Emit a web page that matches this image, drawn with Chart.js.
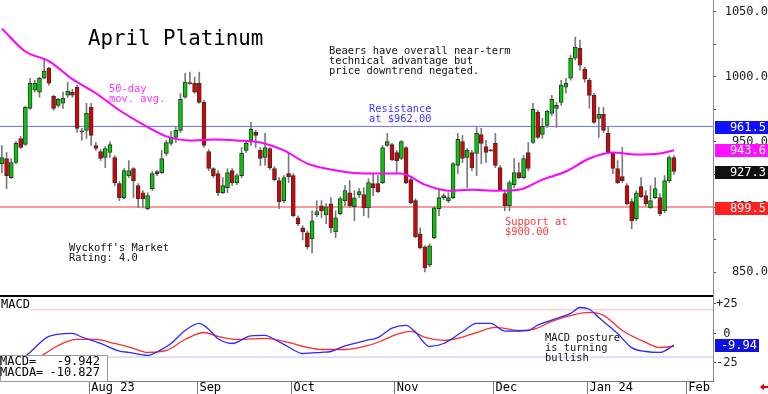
<!DOCTYPE html>
<html>
<head>
<meta charset="utf-8">
<script src="https://cdn.jsdelivr.net/npm/chart.js@4.4.1/dist/chart.umd.min.js"></script>
<style>
  html, body { margin: 0; padding: 0; background: #fff; }
  #wrap { position: relative; width: 768px; height: 394px; }
</style>
</head>
<body>
<div id="wrap"><canvas id="chart"></canvas></div>
<script>
// --- Daily candles (trading-day index 0..143) ---
const openP = [933.4,937.3,922.6,934.2,952.7,948.1,975.9,989.8,988.3,999.0,1006.8,985.2,978.2,979.8,986.0,988.3,992.1,958.5,958.9,976.7,
  947.3,942.7,938.1,941.9,938.1,918.0,907.2,924.2,929.6,916.4,911.0,898.7,914.1,927.3,926.5,941.2,948.9,953.5,958.9,984.4,
  995.5,995.2,995.2,980.5,942.7,929.6,925.7,911.0,914.9,928.0,918.8,924.2,943.5,951.2,957.4,943.5,938.1,945.0,929.6,920.3,
  904.9,925.7,924.2,891.7,884.0,880.1,875.5,894.0,901.0,894.0,902.5,880.9,894.8,904.9,911.0,900.2,909.5,909.5,899.4,918.0,
  918.0,918.8,947.3,948.1,941.9,937.3,945.8,921.1,904.9,879.4,869.3,855.4,876.3,898.7,907.2,904.9,907.2,931.9,950.4,938.1,
  941.9,941.2,955.8,946.5,943.9,948.9,930.3,910.3,901.0,917.2,926.5,922.6,941.9,949.6,972.8,955.8,962.8,972.0,975.9,980.5,
  992.1,999.0,1014.5,1022.2,1006.0,997.5,985.9,968.2,971.3,956.6,941.2,929.6,923.4,916.4,904.1,891.0,915.7,908.7,899.4,907.2,
  907.2,897.1,920.3,938.1];
const highP = [947.3,941.9,937.3,950.4,954.3,977.5,999.0,997.5,999.8,1014.5,1007.5,986.0,983.6,988.3,996.0,990.6,993.7,960.5,979.8,979.8,
  949.6,944.2,946.5,950.4,939.6,919.5,929.6,935.7,930.3,918.0,912.6,911.0,927.3,928.0,943.5,951.2,958.2,961.2,987.5,1002.9,
  1003.7,999.8,1003.7,982.1,944.2,930.3,928.0,922.6,929.6,929.6,925.7,945.8,951.2,965.1,958.9,945.8,956.6,945.8,931.1,922.6,
  924.2,941.9,925.7,893.3,885.6,881.7,897.1,904.9,904.9,902.5,907.2,897.1,908.0,916.4,920.3,912.6,914.1,914.9,921.8,925.7,
  924.2,947.3,956.6,948.9,943.5,951.2,946.5,922.6,906.4,884.0,870.1,871.7,900.2,913.3,910.3,911.0,934.2,956.6,955.1,945.0,
  943.5,961.2,960.5,951.2,944.2,956.6,931.9,912.6,920.3,937.3,934.2,939.6,949.6,979.8,974.4,968.2,974.4,985.9,980.5,997.5,
  999.0,1016.8,1030.7,1028.4,1007.5,999.0,987.5,976.7,976.7,961.2,941.9,935.7,945.8,918.0,906.4,912.6,922.6,912.6,916.4,922.6,
  910.3,924.2,939.6,939.6];
const lowP = [926.5,914.1,921.8,933.4,945.0,947.3,975.1,988.3,984.4,998.5,993.7,974.4,976.7,975.9,984.4,984.4,957.4,951.2,952.7,947.3,
  943.5,935.7,930.3,938.1,916.4,904.9,906.4,922.6,907.2,899.4,899.4,897.9,912.6,924.2,925.7,939.6,947.3,949.6,957.4,983.6,
  994.4,987.5,979.8,945.8,928.0,922.6,908.7,910.3,911.0,916.4,917.2,922.6,941.9,947.3,945.8,931.9,931.9,928.8,920.3,898.7,
  903.3,918.8,892.5,885.6,874.7,867.8,864.7,892.5,891.7,887.1,880.1,876.3,894.0,901.0,899.4,889.4,907.2,893.3,891.7,908.7,
  911.0,918.0,946.5,935.7,925.7,936.5,918.0,902.5,876.3,867.8,850.0,853.9,875.5,893.3,905.6,903.3,906.4,925.7,934.2,914.9,
  928.0,924.2,933.4,934.2,942.7,930.3,912.6,897.1,897.1,914.9,921.8,921.8,928.0,948.9,952.7,952.7,961.2,970.5,961.2,978.2,
  987.5,997.5,1013.0,1005.2,996.0,975.9,964.3,953.5,957.4,941.2,925.7,918.0,918.8,901.5,883.2,889.4,907.2,901.0,899.0,906.4,
  893.3,895.6,918.8,925.0];
const closeP = [938.0,924.2,934.2,948.9,945.8,976.7,995.2,995.2,999.0,1004.5,995.2,975.9,982.8,983.6,989.0,986.0,960.5,957.9,972.0,955.1,
  945.0,937.3,945.0,948.1,918.8,907.2,928.0,928.0,920.3,906.4,906.4,908.7,925.7,925.7,937.3,949.6,953.5,958.9,982.8,996.0,
  994.9,988.3,980.5,947.3,929.6,924.2,911.0,916.4,926.5,918.8,924.2,941.2,948.9,959.7,955.1,937.3,945.8,930.3,921.1,904.1,
  922.6,923.4,893.3,887.1,880.9,869.3,889.4,896.4,897.1,900.2,884.0,891.7,906.4,912.6,901.0,907.0,911.8,899.4,918.8,914.9,
  911.8,945.8,950.4,936.5,935.7,950.4,918.8,903.3,877.1,868.6,853.1,870.1,899.4,907.2,908.7,907.2,933.4,952.0,937.3,943.5,
  930.3,956.6,948.9,941.9,943.2,931.9,913.3,901.0,918.8,926.5,922.6,937.3,929.6,975.1,953.5,962.0,973.6,982.8,978.2,993.7,
  995.2,1014.5,1023.0,1009.1,998.3,985.9,965.1,971.3,958.9,941.9,929.6,918.8,920.3,902.5,889.4,911.0,907.9,902.5,904.9,914.1,
  894.8,920.3,938.1,927.3];

// 50-day moving average, sampled along the curve
const maIdx = [0,5,10,15,20,25,30,35,40,45,50,55,60,65,70,75,80,85,90,95,100,105,110,115,120,125,130,135,140,143];
const maVal = [1037.2,1019.6,1012.2,998.3,987.5,974.4,963.5,954.3,951.2,952.0,951.2,949.6,943.5,933.4,928.8,926.1,925.7,925.7,917.2,912.6,
  913.3,912.6,913.3,921.1,927.3,937.3,941.9,940.4,941.2,943.6];

// MACD (blue) and its average MACDA (red)
const macdIdx = [3,6,10,15,17,21,25,27,31,34,36,39,42,44,46,49,53,56,58,61,64,68,70,73,78,80,83,86,88,91,94,98,101,104,107,112,114,118,121,123,125,127,131,134,137,140,143];
const macdVal = [-26,-16,-2.5,0,-3,-8.5,-15,-16,-18.6,-13.5,-8.5,2.5,8.5,3.5,-4.5,-8.5,-2,-1.7,-5,-11.5,-17,-16,-15.3,-10.5,-5.5,-3.5,4.5,6.8,1,-11,
  -8.5,1.5,8.5,8.5,2,2.5,7,12.7,17,22,20.5,13.5,0,-12,-15.3,-16.1,-9.94];
const signalIdx = [6,8,12,16,20,24,28,31,35,39,43,46,50,56,61,65,68,73,78,81,84,87,90,94,97,101,105,110,113,117,122,125,128,132,137,140,143];
const signalVal = [-26,-20.3,-10.2,-5.1,-5.1,-8.5,-12.7,-16.1,-14.4,-5.1,0.8,-2.5,-5.1,-4.2,-7.6,-11.9,-13.6,-13.6,-10.2,-5.9,-0.8,1.7,-3.4,-5.9,-4.2,
  0.8,5.1,2.5,3.4,10.2,16.1,17.8,15.3,2.5,-7.6,-11.9,-10.83];

// Reference levels
const resistance = 962;
const support = 900;
const macdUpper = 20;
const macdLower = -20;

// Axis ticks
const priceTicks = [850, 875, 900, 925, 950, 975, 1000, 1025, 1050];
const macdTicks = [-25, 0, 25];
const monthStart = [19, 42, 62, 84, 105, 125, 146];
const monthLabels = ['Aug 23', 'Sep', 'Oct', 'Nov', 'Dec', 'Jan 24', 'Feb'];

// Last-value tags on the right axis
const priceTags = [961.5, 943.6, 927.3, 899.5];
const priceTagColors = ['#1010ff', '#ff10ff', '#111111', '#ff2020'];
const macdLast = -9.942;
const macdaLast = -10.827;

const MONO = '"DejaVu Sans Mono", "Liberation Mono", monospace';
const GREEN = '#00cc00';
const RED = '#dd0000';

const pts = (xs, ys) => xs.map((x, i) => ({ x, y: ys[i] }));
const flat = (v) => [{ x: -1, y: v }, { x: 160, y: v }];

// overlay: panel divider, value tags, notes, MACD readout
const decor = {
  id: 'decor',
  afterDraw(chart) {
    const ctx = chart.ctx;
    const yP = chart.scales.y;
    const yM = chart.scales.yM;
    const area = chart.chartArea;
    ctx.save();

    // divider between price and MACD panels
    ctx.strokeStyle = '#000';
    ctx.lineWidth = 2;
    ctx.beginPath();
    ctx.moveTo(area.left, yP.bottom - 1);
    ctx.lineTo(yP.left, yP.bottom - 1);
    ctx.stroke();

    // tags
    ctx.font = '12px ' + MONO;
    ctx.textAlign = 'right';
    ctx.textBaseline = 'middle';
    priceTags.forEach((v, i) => {
      const y = Math.round(yP.getPixelForValue(v));
      ctx.fillStyle = priceTagColors[i];
      ctx.fillRect(yP.left + 2, y - 6, yP.right - yP.left - 2, 13);
      ctx.fillStyle = '#fff';
      ctx.fillText(v.toFixed(1), yP.right - 2, y + 1);
    });
    const ym = Math.round(yM.getPixelForValue(macdLast));
    ctx.fillStyle = '#1010e0';
    ctx.fillRect(yM.left + 2, ym - 6, 44, 13);
    ctx.fillStyle = '#fff';
    ctx.fillText(macdLast.toFixed(2), yM.left + 44, ym + 1);

    // notes
    const notes = [
      { lines: ['Beaers have overall near-term', 'technical advantage but', 'price downtrend negated.'], x: 329, y: 51, color: '#111' },
      { lines: ['Resistance', 'at $962.00'], x: 369, y: 109, color: '#3838ff' },
      { lines: ['50-day', 'mov. avg.'], x: 109, y: 89, color: '#ff30ff' },
      { lines: ["Wyckoff's Market", 'Rating: 4.0'], x: 69, y: 248, color: '#111' },
      { lines: ['Support at', '$900.00'], x: 505, y: 222, color: '#ff3838' },
      { lines: ['MACD posture', 'is turning', 'bullish'], x: 545, y: 338, color: '#111' }
    ];
    ctx.textAlign = 'left';
    ctx.font = '10.4px ' + MONO;
    notes.forEach(n => {
      ctx.fillStyle = n.color;
      n.lines.forEach((t, k) => ctx.fillText(t, n.x, n.y + k * 10.3));
    });

    // title
    ctx.fillStyle = '#000';
    ctx.font = '20.8px ' + MONO;
    ctx.textBaseline = 'alphabetic';
    ctx.fillText('April Platinum', 88, 45);

    // MACD panel label
    ctx.font = '12px ' + MONO;
    ctx.textBaseline = 'middle';
    ctx.fillStyle = '#fff';
    ctx.fillRect(0, yM.top + 1, 30, 13);
    ctx.fillStyle = '#000';
    ctx.fillText('MACD', 1, yM.top + 8);

    // MACD readout box
    ctx.fillStyle = '#fff';
    ctx.fillRect(0, 355, 108, yM.bottom - 355);
    ctx.strokeStyle = '#999';
    ctx.lineWidth = 1;
    ctx.strokeRect(0.5, 355.5, 107, yM.bottom - 355);
    ctx.fillStyle = '#000';
    ctx.fillText('MACD=', 0, 362);
    ctx.fillText('MACDA=', 0, 373);
    ctx.textAlign = 'right';
    ctx.fillText(macdLast.toFixed(3), 100, 362);
    ctx.fillText(macdaLast.toFixed(3), 100, 373);

    // small red arrow bottom right
    ctx.fillStyle = '#e00000';
    ctx.beginPath();
    ctx.moveTo(760, 387);
    ctx.lineTo(764, 383.5);
    ctx.lineTo(764, 390.5);
    ctx.closePath();
    ctx.fill();
    ctx.fillRect(764, 386, 4, 2);

    ctx.restore();
  }
};

const yAxisFit = (s) => { s.width = 55; s.paddingTop = 0; s.paddingBottom = 0; };

new Chart(document.getElementById('chart'), {
  type: 'bar',
  data: {
    datasets: [
      {
        type: 'line', label: 'MACD', yAxisID: 'yM', data: pts(macdIdx, macdVal),
        borderColor: '#2b2bff', borderWidth: 1.3, pointRadius: 0, cubicInterpolationMode: 'monotone', order: 1
      },
      {
        type: 'line', label: 'MACDA', yAxisID: 'yM', data: pts(signalIdx, signalVal),
        borderColor: '#ff2b2b', borderWidth: 1.3, pointRadius: 0, cubicInterpolationMode: 'monotone', order: 1
      },
      {
        type: 'line', label: '50-day', yAxisID: 'y', data: pts(maIdx, maVal),
        borderColor: '#ff00ff', borderWidth: 2, pointRadius: 0, cubicInterpolationMode: 'monotone', order: 2
      },
      {
        label: 'body', yAxisID: 'y', grouped: false, barThickness: 4, minBarLength: 1,
        data: openP.map((o, i) => ({ x: i, y: [o, closeP[i]] })),
        backgroundColor: openP.map((o, i) => closeP[i] >= o ? GREEN : RED),
        borderColor: '#333', borderWidth: 1, borderSkipped: false, order: 3
      },
      {
        label: 'wick', yAxisID: 'y', grouped: false, barThickness: 1, minBarLength: 1,
        data: openP.map((o, i) => ({ x: i, y: [lowP[i], highP[i]] })),
        backgroundColor: '#7a7a7a', borderWidth: 0, order: 4
      },
      {
        type: 'line', label: 'resistance', yAxisID: 'y', data: flat(resistance),
        borderColor: '#6a6aff', borderWidth: 1, pointRadius: 0, order: 5
      },
      {
        type: 'line', label: 'support', yAxisID: 'y', data: flat(support),
        borderColor: '#ff9a9a', borderWidth: 2, pointRadius: 0, order: 5
      },
      {
        type: 'line', label: 'upper', yAxisID: 'yM', data: flat(macdUpper),
        borderColor: '#ffb8b8', borderWidth: 1, pointRadius: 0, order: 5
      },
      {
        type: 'line', label: 'lower', yAxisID: 'yM', data: flat(macdLower),
        borderColor: '#bcbcff', borderWidth: 1, pointRadius: 0, order: 5
      }
    ]
  },
  options: {
    responsive: true,
    maintainAspectRatio: false,
    animation: false,
    events: [],
    layout: { padding: 0 },
    plugins: { legend: { display: false }, tooltip: { enabled: false } },
    scales: {
      x: {
        type: 'linear', position: 'bottom', offset: false, min: -0.4, max: 151.3,
        afterBuildTicks: (s) => { s.ticks = monthStart.map(v => ({ value: v - 0.4 })); },
        afterFit: (s) => { s.height = 13; s.paddingLeft = 0; s.paddingRight = 0; },
        grid: { offset: false, drawOnChartArea: false, drawTicks: true, tickLength: 13, color: '#777' },
        border: { display: true, color: '#777' },
        ticks: {
          autoSkip: false, maxRotation: 0, align: 'start', padding: -13, labelOffset: 2,
          color: '#000', font: { family: MONO, size: 12 },
          callback: (v, i) => monthLabels[i]
        }
      },
      y: {
        type: 'linear', position: 'right', stack: 'panels', stackWeight: 297,
        min: 830.8, max: 1059.2,
        afterBuildTicks: (s) => { s.ticks = priceTicks.map(v => ({ value: v })); },
        afterFit: yAxisFit,
        grid: { drawOnChartArea: false, drawTicks: true, tickLength: 3, color: '#555' },
        border: { display: true, color: '#888' },
        ticks: {
          autoSkip: false, crossAlign: 'far', padding: 2, color: '#222',
          font: { family: MONO, size: 12 },
          callback: (v) => v % 50 === 0 ? v.toFixed(1) : ''
        }
      },
      yM: {
        type: 'linear', position: 'right', stack: 'panels', stackWeight: 84,
        min: -40.3, max: 30.9,
        afterBuildTicks: (s) => { s.ticks = macdTicks.map(v => ({ value: v })); },
        afterFit: yAxisFit,
        grid: { drawOnChartArea: false, drawTicks: true, tickLength: 3, color: '#555' },
        border: { display: true, color: '#888' },
        ticks: {
          autoSkip: false, padding: 0, color: '#222',
          font: { family: MONO, size: 12 },
          callback: (v) => v > 0 ? '+' + v : (v === 0 ? ' 0' : String(v))
        }
      }
    }
  },
  plugins: [decor]
});
</script>
</body>
</html>
